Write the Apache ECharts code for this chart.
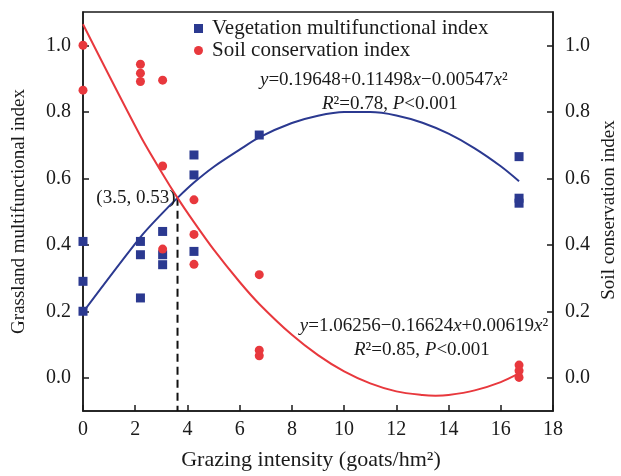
<!DOCTYPE html>
<html>
<head>
<meta charset="utf-8">
<script src="https://cdn.jsdelivr.net/npm/echarts@6/dist/echarts.min.js"></script>
<style>html,body{margin:0;padding:0;background:#fff}#c{width:621px;height:476px}</style>
</head>
<body>
<div id="c"></div>
<script>
// ---- data ----
const vegX = [0, 0, 0, 2.2, 2.2, 2.2, 3.05, 3.05, 3.05, 4.25, 4.25, 4.25, 6.75, 16.7, 16.7, 16.7];
const vegY = [0.41, 0.29, 0.20, 0.41, 0.37, 0.24, 0.44, 0.37, 0.34, 0.67, 0.61, 0.38, 0.73, 0.665, 0.54, 0.525];

const soilX = [0, 0, 2.2, 2.2, 2.2, 3.05, 3.05, 3.05, 4.25, 4.25, 4.25, 6.75, 6.75, 6.75, 16.7, 16.7, 16.7];
const soilY = [1.0, 0.865, 0.943, 0.916, 0.891, 0.895, 0.637, 0.387, 0.535, 0.431, 0.341, 0.31, 0.083, 0.066, 0.038, 0.021, 0.001];

const vegFitX = [0, 2.2, 3.05, 3.62, 4.25, 5, 6, 6.75, 8, 9, 10, 11, 12, 13, 14, 15, 16, 16.7];
const vegFitY = [0.197, 0.423, 0.496, 0.541, 0.587, 0.634, 0.686, 0.723, 0.766, 0.788, 0.799, 0.799, 0.789, 0.767, 0.734, 0.690, 0.636, 0.591];

const soilFitX = [0, 2.2, 3.05, 3.62, 4.25, 5, 6, 6.75, 8, 9, 10, 11, 12, 13, 13.5, 14, 15, 16, 16.7];
const soilFitY = [1.063, 0.727, 0.613, 0.541, 0.468, 0.386, 0.288, 0.222, 0.129, 0.068, 0.019, -0.017, -0.041, -0.052, -0.054, -0.052, -0.038, -0.013, 0.013];

const crossX = [3.62, 3.62];
const crossY = [0.541, -0.1];

const xTicks = [0, 2, 4, 6, 8, 10, 12, 14, 16, 18];
const yTicks = [0, 0.2, 0.4, 0.6, 0.8, 1.0];

const legendNames = ['Vegetation multifunctional index', 'Soil conservation index'];
const xName = 'Grazing intensity (goats/hm²)';
const yNameLeft = 'Grassland multifunctional index';
const yNameRight = 'Soil conservation index';

// annotation anchors (data coordinates) and texts
const annX = [11.52, 11.75, 13.06, 12.98, 3.62];
const annY = [0.895, 0.824, 0.157, 0.0835, 0.541];
const annText = [
  '{i|y}=0.19648+0.11498{i|x}\u22120.00547{i|x}²',
  '{i|R}²=0.78, {i|P}<0.001',
  '{i|y}=1.06256\u22120.16624{i|x}+0.00619{i|x}²',
  '{i|R}²=0.85, {i|P}<0.001',
  '(3.5, 0.53)'
];

const zip = (a, b) => a.map((v, i) => [v, b[i]]);

const FONT = 'Liberation Serif';
const INK = '#1a1a1a';
const BLUE = '#2b3990';
const RED = '#e8383d';

const yAxisBase = (pos) => ({
  type: 'value', position: pos, min: -0.1, max: 1.1,
  axisLine: { show: true, onZero: false, lineStyle: { color: INK, width: 1.5 } },
  axisTick: { show: true, inside: true, length: 6, customValues: yTicks, lineStyle: { color: INK, width: 1.5 } },
  axisLabel: { customValues: yTicks, margin: 12, fontFamily: FONT, fontSize: 20, color: INK, formatter: v => v.toFixed(1) },
  splitLine: { show: false }
});

const left = yAxisBase('left');
left.name = yNameLeft; left.nameGap = 54; left.nameLocation = 'middle'; left.nameRotate = 90;
left.nameTextStyle = { fontFamily: FONT, fontSize: 19, color: INK };
const right = yAxisBase('right');

const option = {
  animation: false,
  backgroundColor: '#fff',
  grid: { left: 83, right: 68, top: 12, bottom: 58, show: true, borderColor: INK, borderWidth: 1.5 },
  legend: {
    data: legendNames, orient: 'vertical', left: 189, top: 13,
    itemWidth: 9, itemHeight: 9, itemGap: 1,
    textStyle: { fontFamily: FONT, fontSize: 21, color: INK, padding: [0, 0, 0, 4] }
  },
  graphic: [{
    type: 'text', x: 609, y: 210, rotation: Math.PI / 2, silent: true,
    style: { text: yNameRight, fontFamily: FONT, fontSize: 19, fill: INK, align: 'center', verticalAlign: 'middle' }
  }],
  xAxis: {
    type: 'value', min: 0, max: 18, interval: 2,
    axisLine: { show: true, onZero: false, lineStyle: { color: INK, width: 1.5 } },
    axisTick: { show: true, inside: true, length: 6, lineStyle: { color: INK, width: 1.5 } },
    axisLabel: { margin: 9, fontFamily: FONT, fontSize: 20, color: INK, customValues: xTicks },
    splitLine: { show: false },
    name: xName, nameLocation: 'middle', nameGap: 38,
    nameTextStyle: { fontFamily: FONT, fontSize: 22, color: INK, padding: [0, 14, 0, 0] }
  },
  yAxis: [left, right],
  series: [
    { name: legendNames[0], type: 'scatter', symbol: 'rect', symbolSize: 9, itemStyle: { color: BLUE, opacity: 1 }, data: zip(vegX, vegY), z: 4 },
    { name: legendNames[1], type: 'scatter', symbol: 'circle', symbolSize: 9, itemStyle: { color: RED, opacity: 1 }, data: zip(soilX, soilY), z: 4 },
    { type: 'line', data: zip(vegFitX, vegFitY), showSymbol: false, smooth: 0.3, lineStyle: { color: BLUE, width: 2 }, z: 3 },
    { type: 'line', yAxisIndex: 1, data: zip(soilFitX, soilFitY), showSymbol: false, smooth: 0.3, lineStyle: { color: RED, width: 2 }, z: 3 },
    { type: 'line', data: zip(crossX, crossY), showSymbol: false, lineStyle: { color: '#111', width: 2, type: [8, 5] }, z: 2 },
    {
      type: 'scatter', symbolSize: 0, silent: true, z: 5,
      itemStyle: { opacity: 1 },
      data: annX.map((x, i) => ({
        value: [x, annY[i]],
        label: {
          show: true, position: i === 4 ? 'left' : 'inside', distance: 2, formatter: annText[i],
          fontFamily: FONT, fontSize: 19, color: INK,
          rich: { i: { fontFamily: FONT, fontSize: 19, fontStyle: 'italic', color: INK } }
        }
      }))
    }
  ]
};

echarts.init(document.getElementById('c'), null, { renderer: 'canvas' }).setOption(option);
</script>
</body>
</html>
